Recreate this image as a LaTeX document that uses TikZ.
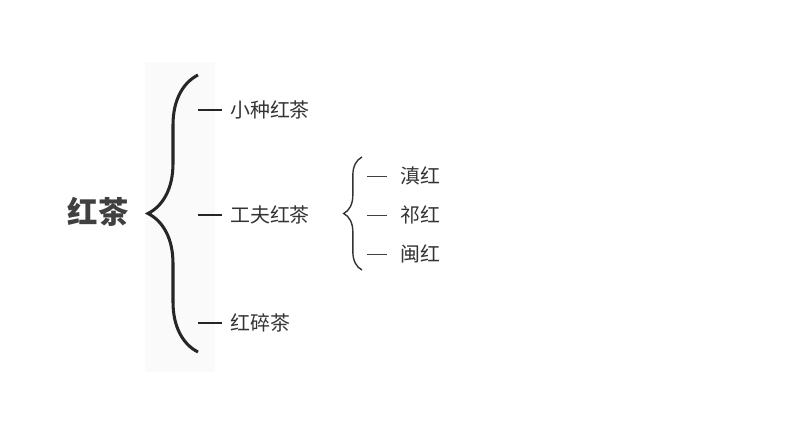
\documentclass[tikz,border=0pt]{standalone}
\usepackage{fontspec}
\newfontfamily\cjk{Noto Sans CJK SC}
\usetikzlibrary{decorations.pathreplacing}
\tikzset{
  item/.style={anchor=west, inner sep=0pt, font=\cjk\fontsize{17}{17}\selectfont, text=black!80},
  dashline/.style={line width=1.5pt, black!85},
  bigbrace/.style={decorate, decoration={brace, amplitude=1.5cm, aspect=.5}, line width=2.6pt, black!85},
  smallbrace/.style={decorate, decoration={brace, amplitude=.55cm}, line width=1.2pt, black!80}
}
\begin{document}
\begin{tikzpicture}[x=.03cm, y=-.03cm]
	\useasboundingbox (0,0) rectangle (790,430);
	\fill[black!2] (145,62) rectangle (215,372);
	% root
	\node[font=\cjk\bfseries\fontsize{26}{26}\selectfont, text=black!75] (root) at (98,212) {红茶};
	\draw[bigbrace] (198,352) -- (198,75);
	% first level
	\coordinate (d1) at (198,110); \coordinate (d1e) at (222,110);
	\coordinate (d2) at (198,215); \coordinate (d2e) at (222,215);
	\coordinate (d3) at (198,323); \coordinate (d3e) at (222,323);
	\node[item] (xz) at (230,110) {小种红茶};
	\node[item] (gf) at (230,215) {工夫红茶};
	\node[item] (hs) at (230,323) {红碎茶};
	\draw[dashline] (d1) -- (d1e);
	\draw[dashline] (d2) -- (d2e);
	\draw[dashline] (d3) -- (d3e);
	% second level
	\draw[smallbrace] (362,270) -- (362,157);
	\coordinate (e1) at (367,176); \coordinate (e1e) at (387,176);
	\coordinate (e2) at (367,215); \coordinate (e2e) at (387,215);
	\coordinate (e3) at (367,254); \coordinate (e3e) at (387,254);
	\node[item] (dh) at (400,176) {滇红};
	\node[item] (qh) at (400,215) {祁红};
	\node[item] (mh) at (400,254) {闽红};
	\draw[thick, black!75] (e1) -- (e1e);
	\draw[thick, black!75] (e2) -- (e2e);
	\draw[thick, black!75] (e3) -- (e3e);
\end{tikzpicture}
\end{document}
